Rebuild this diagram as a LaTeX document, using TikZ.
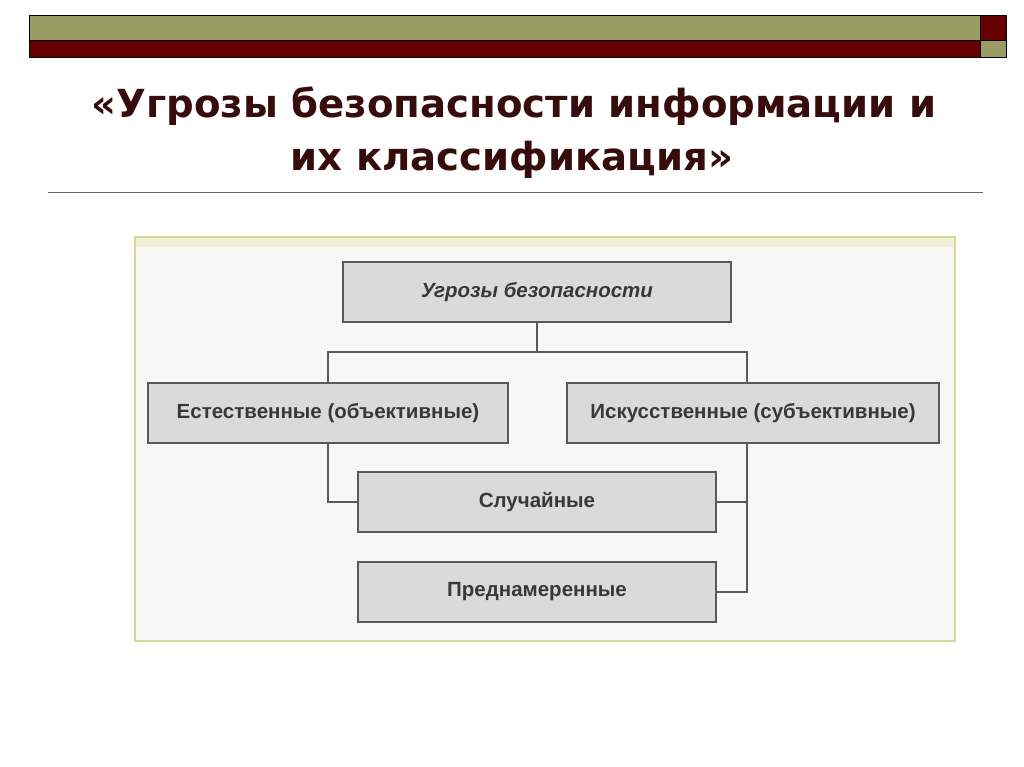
\documentclass[tikz,border=0pt]{standalone}
\usepackage{fontspec}
\setmainfont{Liberation Sans}
\newfontfamily\titlefont{DejaVu Sans}
\usepackage{tikz}
\definecolor{barolive}{RGB}{155,156,99}
\definecolor{barred}{RGB}{102,0,0}
\definecolor{boxgray}{RGB}{218,218,218}
\definecolor{framegreen}{RGB}{214,216,150}
\definecolor{titlered}{RGB}{55,12,12}

\begin{document}
\begin{tikzpicture}[x=0.03cm, y=-0.03cm,
    blok/.style={draw=black!65, line width=1.4pt, rectangle, fill=boxgray,
        minimum height=1.8cm, inner sep=0pt, text=black!78,
        font=\fontsize{17.5}{20}\bfseries},
    svyaz/.style={draw=black!65, line width=1.4pt}]
    \useasboundingbox (0,0) rectangle (1024,767);

    % polosy vverkhu
    \draw[fill=barolive] (29,15) rectangle (980,40);
    \draw[fill=barred] (980,15) rectangle (1006,40);
    \draw[fill=barred] (29,40) rectangle (980,57);
    \draw[fill=barolive] (980,40) rectangle (1006,57);

    % zagolovok
    \node[text=titlered, font=\titlefont\fontsize{33}{38}\bfseries] (title1) at (514,106) {«Угрозы безопасности информации и};
    \node[text=titlered, font=\titlefont\fontsize{33}{38}\bfseries] (title2) at (512,160) {их классификация»};
    \draw[black!60, line width=0.6pt] (48,192) -- (983,192);

    % ramka skhemy
    \draw[draw=framegreen, line width=1pt, fill=black!3] (135,237) rectangle (955,641);
    \fill[framegreen!40] (136,238) rectangle (954,247);

    \node[blok, minimum width=11.64cm, font=\fontsize{17.5}{20}\bfseries\itshape] (ugrozy) at (537,292) {Угрозы безопасности};
    \node[blok, minimum width=10.8cm] (estestv) at (328,413) {Естественные (объективные)};
    \node[blok, minimum width=11.16cm] (iskusstv) at (753,413) {Искусственные (субъективные)};
    \node[blok, minimum width=10.74cm] (sluch) at (537,502) {Случайные};
    \node[blok, minimum width=10.74cm] (prednam) at (537,592) {Преднамеренные};

    \coordinate (razvL) at (328,352);
    \coordinate (razvR) at (747,352);

    \draw[svyaz] (ugrozy.south) -- (ugrozy.south |- razvL);
    \draw[svyaz] (estestv.north) -- (razvL) -- (razvR) -- (razvR |- iskusstv.north);
    \draw[svyaz] (estestv.south) |- (sluch.west);
    \draw[svyaz] (razvR |- iskusstv.south) |- (sluch.east);
    \draw[svyaz] (razvR |- iskusstv.south) |- (prednam.east);
\end{tikzpicture}
\end{document}
